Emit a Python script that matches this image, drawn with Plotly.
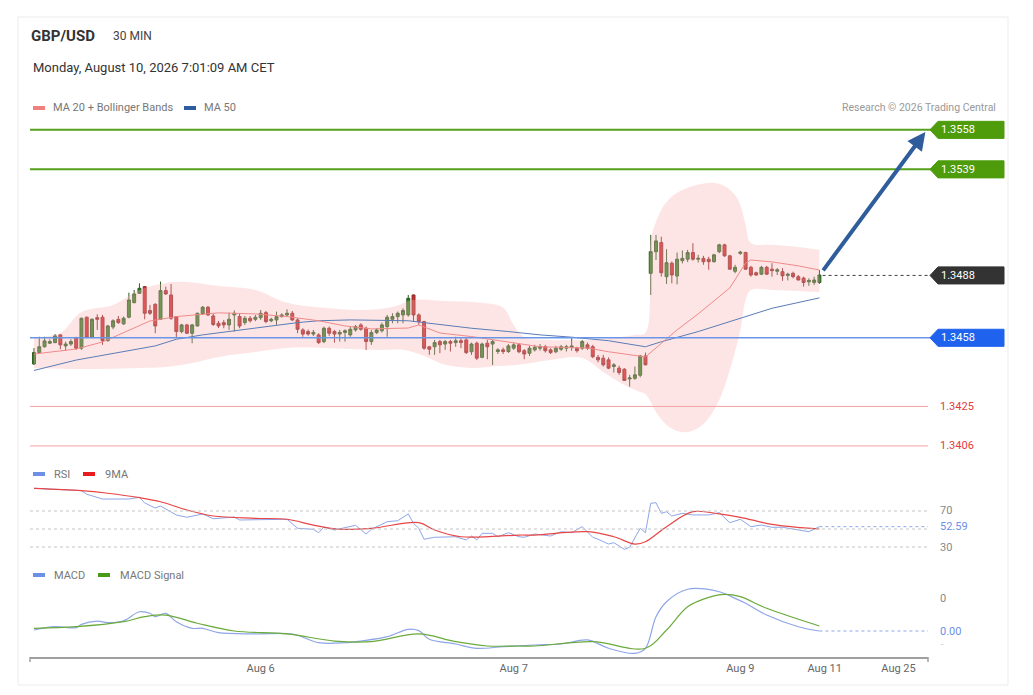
import plotly.graph_objects as go

# ============================
# Dados (GBP/USD, 30 min)
# ============================
opens = [1.34454, 1.34509, 1.34537, 1.34554, 1.34557, 1.34594, 1.34541, 1.34550, 1.34578, 1.34530,
         1.34679, 1.34583, 1.34677, 1.34679, 1.34566, 1.34632, 1.34669, 1.34647, 1.34679, 1.34749,
         1.34794, 1.34826, 1.34711, 1.34741, 1.34669, 1.34807, 1.34786, 1.34682, 1.34610, 1.34642,
         1.34602, 1.34637, 1.34695, 1.34727, 1.34685, 1.34650, 1.34653, 1.34642, 1.34690, 1.34682,
         1.34653, 1.34674, 1.34669, 1.34677, 1.34701, 1.34662, 1.34666, 1.34682, 1.34690, 1.34698,
         1.34666, 1.34618, 1.34610, 1.34598, 1.34594, 1.34562, 1.34626, 1.34610, 1.34598, 1.34606,
         1.34594, 1.34618, 1.34642, 1.34626, 1.34562, 1.34605, 1.34614, 1.34634, 1.34669, 1.34682,
         1.34690, 1.34690, 1.34786, 1.34690, 1.34658, 1.34537, 1.34537, 1.34562, 1.34550, 1.34562,
         1.34557, 1.34566, 1.34570, 1.34513, 1.34554, 1.34486, 1.34554, 1.34550, 1.34514, 1.34522,
         1.34514, 1.34530, 1.34546, 1.34518, 1.34506, 1.34522, 1.34530, 1.34537, 1.34522, 1.34513,
         1.34525, 1.34530, 1.34533, 1.34530, 1.34530, 1.34546, 1.34537, 1.34486, 1.34482, 1.34474,
         1.34442, 1.34434, 1.34429, 1.34382, 1.34385, 1.34400, 1.34493, 1.34890, 1.34994, 1.35038,
         1.34874, 1.34939, 1.34877, 1.34951, 1.34958, 1.34990, 1.34958, 1.34962, 1.34958, 1.34946,
         1.34994, 1.35027, 1.34974, 1.34900, 1.34986, 1.34990, 1.34919, 1.34893, 1.34886, 1.34919,
         1.34910, 1.34900, 1.34898, 1.34880, 1.34890, 1.34874, 1.34867, 1.34849, 1.34846, 1.34846]
highs = [1.34531, 1.34585, 1.34585, 1.34573, 1.34598, 1.34597, 1.34562, 1.34573, 1.34585, 1.34677,
         1.34682, 1.34674, 1.34693, 1.34690, 1.34642, 1.34669, 1.34685, 1.34682, 1.34797, 1.34810,
         1.34842, 1.34829, 1.34738, 1.34746, 1.34850, 1.34826, 1.34839, 1.34685, 1.34647, 1.34647,
         1.34647, 1.34701, 1.34733, 1.34733, 1.34695, 1.34661, 1.34666, 1.34701, 1.34712, 1.34695,
         1.34685, 1.34685, 1.34690, 1.34714, 1.34709, 1.34677, 1.34706, 1.34698, 1.34717, 1.34709,
         1.34674, 1.34626, 1.34620, 1.34618, 1.34602, 1.34634, 1.34634, 1.34618, 1.34618, 1.34621,
         1.34634, 1.34642, 1.34650, 1.34634, 1.34618, 1.34626, 1.34653, 1.34690, 1.34698, 1.34706,
         1.34722, 1.34786, 1.34788, 1.34698, 1.34662, 1.34541, 1.34570, 1.34570, 1.34570, 1.34570,
         1.34585, 1.34578, 1.34578, 1.34557, 1.34562, 1.34557, 1.34570, 1.34570, 1.34530, 1.34533,
         1.34550, 1.34554, 1.34554, 1.34526, 1.34541, 1.34546, 1.34550, 1.34546, 1.34530, 1.34541,
         1.34546, 1.34546, 1.34578, 1.34537, 1.34570, 1.34557, 1.34546, 1.34498, 1.34498, 1.34486,
         1.34458, 1.34446, 1.34434, 1.34402, 1.34442, 1.34498, 1.34509, 1.35075, 1.35075, 1.35066,
         1.35006, 1.34947, 1.34990, 1.35000, 1.35003, 1.35035, 1.34979, 1.34974, 1.34970, 1.34984,
         1.35032, 1.35032, 1.34979, 1.34931, 1.34998, 1.34994, 1.34926, 1.34898, 1.34926, 1.34926,
         1.34939, 1.34915, 1.34915, 1.34893, 1.34898, 1.34882, 1.34874, 1.34866, 1.34874, 1.34906]
lows = [1.34450, 1.34507, 1.34533, 1.34550, 1.34554, 1.34525, 1.34517, 1.34541, 1.34522, 1.34522,
        1.34578, 1.34578, 1.34618, 1.34546, 1.34562, 1.34621, 1.34647, 1.34642, 1.34674, 1.34746,
        1.34791, 1.34669, 1.34690, 1.34602, 1.34666, 1.34786, 1.34666, 1.34578, 1.34602, 1.34598,
        1.34554, 1.34634, 1.34690, 1.34685, 1.34637, 1.34627, 1.34626, 1.34618, 1.34610, 1.34626,
        1.34642, 1.34653, 1.34660, 1.34666, 1.34650, 1.34655, 1.34642, 1.34677, 1.34682, 1.34661,
        1.34602, 1.34585, 1.34590, 1.34589, 1.34550, 1.34554, 1.34589, 1.34557, 1.34562, 1.34562,
        1.34585, 1.34610, 1.34614, 1.34522, 1.34546, 1.34598, 1.34605, 1.34585, 1.34650, 1.34650,
        1.34650, 1.34682, 1.34658, 1.34642, 1.34522, 1.34498, 1.34498, 1.34506, 1.34522, 1.34514,
        1.34537, 1.34530, 1.34502, 1.34498, 1.34473, 1.34482, 1.34477, 1.34449, 1.34502, 1.34502,
        1.34507, 1.34522, 1.34506, 1.34477, 1.34493, 1.34514, 1.34518, 1.34509, 1.34502, 1.34506,
        1.34517, 1.34514, 1.34518, 1.34509, 1.34522, 1.34522, 1.34482, 1.34462, 1.34442, 1.34429,
        1.34413, 1.34402, 1.34374, 1.34345, 1.34378, 1.34390, 1.34448, 1.34786, 1.34954, 1.34874,
        1.34839, 1.34842, 1.34837, 1.34938, 1.34944, 1.34951, 1.34942, 1.34931, 1.34907, 1.34942,
        1.34987, 1.34970, 1.34907, 1.34890, 1.34979, 1.34907, 1.34874, 1.34878, 1.34882, 1.34882,
        1.34874, 1.34882, 1.34854, 1.34856, 1.34866, 1.34856, 1.34826, 1.34830, 1.34834, 1.34839]
closes = [1.34509, 1.34537, 1.34565, 1.34562, 1.34589, 1.34546, 1.34550, 1.34562, 1.34530, 1.34674,
          1.34583, 1.34669, 1.34669, 1.34566, 1.34637, 1.34662, 1.34653, 1.34674, 1.34762, 1.34791,
          1.34818, 1.34698, 1.34698, 1.34637, 1.34807, 1.34791, 1.34674, 1.34610, 1.34642, 1.34602,
          1.34642, 1.34698, 1.34727, 1.34690, 1.34644, 1.34637, 1.34642, 1.34669, 1.34698, 1.34637,
          1.34674, 1.34662, 1.34679, 1.34698, 1.34658, 1.34669, 1.34682, 1.34690, 1.34698, 1.34666,
          1.34621, 1.34598, 1.34598, 1.34606, 1.34557, 1.34626, 1.34602, 1.34598, 1.34606, 1.34614,
          1.34621, 1.34634, 1.34621, 1.34562, 1.34605, 1.34618, 1.34642, 1.34679, 1.34682, 1.34698,
          1.34711, 1.34770, 1.34690, 1.34658, 1.34530, 1.34525, 1.34557, 1.34546, 1.34562, 1.34554,
          1.34566, 1.34557, 1.34509, 1.34550, 1.34482, 1.34550, 1.34537, 1.34562, 1.34522, 1.34514,
          1.34541, 1.34546, 1.34513, 1.34502, 1.34530, 1.34535, 1.34537, 1.34518, 1.34509, 1.34530,
          1.34537, 1.34537, 1.34541, 1.34518, 1.34562, 1.34530, 1.34489, 1.34474, 1.34450, 1.34434,
          1.34450, 1.34413, 1.34375, 1.34387, 1.34402, 1.34493, 1.34450, 1.34994, 1.35046, 1.34893,
          1.34941, 1.34882, 1.34958, 1.34962, 1.34990, 1.34958, 1.34962, 1.34946, 1.34946, 1.34979,
          1.35027, 1.34974, 1.34910, 1.34919, 1.34992, 1.34910, 1.34882, 1.34882, 1.34919, 1.34886,
          1.34903, 1.34907, 1.34878, 1.34886, 1.34874, 1.34858, 1.34846, 1.34856, 1.34858, 1.34882]
candle_idx = list(range(len(closes)))

# Médias e bandas (índice do candle, valor)
ma20_idx = [0, 8, 13, 16, 22, 27, 35, 42, 48, 54, 59, 64, 71, 73, 77, 83, 90, 96, 105, 109, 116,
            122, 126, 132, 135, 136, 140, 145, 149]
ma20_val = [1.34502, 1.34526, 1.34560, 1.34594, 1.34661, 1.34682, 1.34700, 1.34695, 1.34682, 1.34662,
            1.34637, 1.34623, 1.34627, 1.34642, 1.34603, 1.34586, 1.34561, 1.34537, 1.34531, 1.34513,
            1.34488, 1.34618, 1.34695, 1.34820, 1.34940, 1.34954, 1.34945, 1.34926, 1.34906]
ma50_idx = [0, 8, 23, 27, 32, 42, 50, 54, 60, 71, 74, 83, 90, 96, 102, 109, 116, 119, 126, 140, 149]
ma50_val = [1.34423, 1.34473, 1.34541, 1.34573, 1.34594, 1.34626, 1.34653, 1.34662, 1.34666, 1.34662,
            1.34653, 1.34626, 1.34610, 1.34594, 1.34583, 1.34566, 1.34537, 1.34561, 1.34610, 1.34722,
            1.34772]
bb_up_idx = [0, 5, 9, 15, 20, 24, 28, 35, 42, 48, 55, 62, 68, 72, 78, 85, 89, 91, 93, 98, 105, 110,
             114, 116, 117, 118, 119, 120, 122, 125, 129, 131, 133, 134, 135, 136, 140, 145, 149]
bb_up_val = [1.34584, 1.34603, 1.34704, 1.34738, 1.34810, 1.34839, 1.34849, 1.34829, 1.34810, 1.34748,
             1.34724, 1.34714, 1.34728, 1.34762, 1.34757, 1.34748, 1.34724, 1.34642, 1.34584, 1.34570,
             1.34570, 1.34580, 1.34594, 1.34603, 1.35051, 1.35137, 1.35195, 1.35233, 1.35277, 1.35310,
             1.35325, 1.35310, 1.35267, 1.35219, 1.35123, 1.35036, 1.35027, 1.35017, 1.35003]
bb_lo_idx = [0, 10, 20, 25, 30, 35, 42, 48, 55, 60, 65, 70, 74, 78, 83, 88, 92, 98, 104, 108, 112,
             115, 116, 117, 118, 120, 122, 124, 126, 128, 130, 132, 134, 135, 136, 140, 145, 149]
bb_lo_val = [1.34435, 1.34430, 1.34435, 1.34440, 1.34459, 1.34488, 1.34512, 1.34531, 1.34531, 1.34526,
             1.34522, 1.34522, 1.34493, 1.34450, 1.34435, 1.34445, 1.34450, 1.34473, 1.34483, 1.34416,
             1.34353, 1.34319, 1.34310, 1.34271, 1.34223, 1.34161, 1.34132, 1.34127, 1.34146, 1.34194,
             1.34281, 1.34425, 1.34618, 1.34762, 1.34810, 1.34810, 1.34805, 1.34800]

# RSI e média de 9
rsi_idx = [0, 9, 10, 13, 18, 20, 21, 23, 24, 27, 29, 32, 34, 38, 39, 45, 48, 50, 53, 54,
           55, 57, 61, 63, 64, 67, 69, 71, 72, 73, 74, 76, 80, 82, 83, 84, 85, 87, 88, 90,
           92, 93, 95, 98, 100, 102, 104, 106, 107, 109, 110, 112, 113, 115, 116, 117, 118, 119, 120, 121,
           123, 125, 128, 130, 132, 134, 136, 138, 140, 142, 145, 147, 149]
rsi_val = [95.2, 92.6, 88.6, 83.3, 83.3, 85.2, 78.9, 73.3, 75.6, 65.6, 63.0, 66.7, 61.4, 63.3, 60.0,
           60.0, 60.8, 50.8, 49.7, 45.9, 52.2, 48.9, 54.1, 44.4, 49.7, 58.1, 59.2, 66.7, 56.3, 50.8,
           38.6, 40.8, 41.4, 37.8, 42.2, 37.8, 45.2, 45.2, 41.4, 45.9, 41.4, 40.8, 44.4, 42.2, 47.0,
           45.9, 52.6, 40.8, 38.6, 33.3, 34.8, 27.4, 29.7, 50.8, 45.9, 78.6, 79.2, 67.4, 69.2, 64.4,
           67.4, 65.6, 65.6, 68.1, 57.0, 60.8, 52.6, 54.4, 51.9, 51.9, 48.9, 47.0, 52.59]
rsima_idx = [0, 9, 14, 20, 24, 29, 34, 42, 48, 53, 58, 64, 73, 76, 81, 92, 95, 105, 110, 114,
             116, 120, 125, 130, 134, 140, 149]
rsima_val = [95.2, 92.6, 89.7, 84.8, 80.3, 71.1, 64.4, 61.9, 60.8, 54.4, 49.7, 50.8, 57.0, 48.9,
             41.4, 43.3, 43.3, 47.0, 41.4, 33.3, 35.9, 52.6, 69.2, 66.7, 63.0, 55.2, 50.0]

# MACD e sinal
macd_idx = [0, 4, 8, 9, 12, 14, 17, 20, 22, 23, 25, 27, 30, 32, 35, 42, 49, 54, 59, 62, 67, 71,
            73, 75, 80, 84, 89, 95, 100, 105, 109, 114, 116, 118, 120, 124, 130, 133, 135, 139, 145, 149]
macd_val = [0.000015, 0.000065, 0.000050, 0.000100, 0.000150, 0.000126, 0.000156, 0.000292, 0.000268,
            0.000217, 0.000268, 0.000141, 0.000041, 0.000041, -0.000025, -0.000045, -0.000045, -0.000177,
            -0.000177, -0.000152, -0.000086, 0.000026, 0.000005, -0.000126, -0.000197, -0.000262,
            -0.000238, -0.000212, -0.000197, -0.000136, -0.000262, -0.000338, -0.000262, 0.000217,
            0.000444, 0.000632, 0.000595, 0.000495, 0.000420, 0.000242, 0.000065, 0.0]
signal_idx = [0, 8, 17, 21, 25, 31, 38, 48, 57, 64, 73, 80, 86, 92, 95, 106, 116, 120, 124, 128,
              131, 134, 139, 149]
signal_val = [0.000041, 0.000065, 0.000141, 0.000217, 0.000242, 0.000117, 0.0, -0.000045, -0.000152,
              -0.000162, -0.000045, -0.000162, -0.000227, -0.000227, -0.000227, -0.000162, -0.000262,
              0.000015, 0.000368, 0.000510, 0.000556, 0.000520, 0.000344, 0.000076]

# Níveis e rótulos
resistances = [1.3558, 1.3539]
supports = [1.3425, 1.3406]
pivot = 1.3458
last_price = 1.3488
rsi_last = 52.59
target_price = 1.3557
target_idx = 169.1
tick_idx = [43, 91, 134, 150, 164]
tick_labels = ["Aug 6", "Aug 7", "Aug 9", "Aug 11", "Aug 25"]

# ============================
# Layout em pixels (a página tem 8 px de margem no body)
# ============================
OFF = 8
W, H = 1033 - OFF, 695 - OFF
ML, MR, MT, MB = 30 - OFF, 105, 118 - OFF, 38
PW = W - ML - MR
PH = H - MT - MB
FONT = "Roboto, Arial, sans-serif"


def fx(px):
    # px = coordenada na janela
    return (px - OFF - ML) / PW


def fy(py):
    return (H - MB - (py - OFF)) / PH


fig = go.Figure()

# Bandas de Bollinger
fig.add_trace(go.Scatter(x=bb_up_idx, y=bb_up_val, mode="lines", line=dict(width=0, shape="spline"),
                         hoverinfo="skip", showlegend=False))
fig.add_trace(go.Scatter(x=bb_lo_idx, y=bb_lo_val, mode="lines", line=dict(width=0, shape="spline"),
                         fill="tonexty", fillcolor="rgba(250,175,175,0.33)", hoverinfo="skip",
                         showlegend=False))
fig.add_trace(go.Scatter(x=ma50_idx, y=ma50_val, mode="lines", line=dict(color="#5a7cb6", width=1),
                         showlegend=False))
fig.add_trace(go.Scatter(x=ma20_idx, y=ma20_val, mode="lines", line=dict(color="#f08a8a", width=1),
                         showlegend=False))

fig.add_trace(go.Candlestick(
    x=candle_idx, open=opens, high=highs, low=lows, close=closes,
    increasing=dict(fillcolor="#2f8a25", line=dict(color="#2d5e26", width=1)),
    decreasing=dict(fillcolor="#d62a2a", line=dict(color="#8e2b2b", width=1)),
    whiskerwidth=0, showlegend=False, hoverinfo="skip"))

# RSI
fig.add_trace(go.Scatter(x=rsi_idx, y=rsi_val, yaxis="y2", mode="lines",
                         line=dict(color="#8ea6e8", width=1), showlegend=False))
fig.add_trace(go.Scatter(x=rsima_idx, y=rsima_val, yaxis="y2", mode="lines",
                         line=dict(color="#e84646", width=1.2, shape="spline"), showlegend=False))

# MACD
fig.add_trace(go.Scatter(x=macd_idx, y=macd_val, yaxis="y3", mode="lines",
                         line=dict(color="#8ea6e8", width=1.2, shape="spline"), showlegend=False))
fig.add_trace(go.Scatter(x=signal_idx, y=signal_val, yaxis="y3", mode="lines",
                         line=dict(color="#6aaa3a", width=1.2, shape="spline"), showlegend=False))

shapes = []
annotations = []

# Cartão
shapes.append(dict(type="rect", xref="paper", yref="paper", x0=fx(18), x1=fx(1008), y0=fy(685), y1=fy(17),
                   line=dict(color="#ececec", width=1), layer="below"))

# Linhas horizontais de preço
for lvl in resistances:
    shapes.append(dict(type="line", xref="paper", yref="y", x0=0, x1=fx(936), y0=lvl, y1=lvl,
                       line=dict(color="#55a11c", width=2)))
shapes.append(dict(type="line", xref="paper", yref="y", x0=0, x1=fx(936), y0=pivot, y1=pivot,
                   line=dict(color="#6b95e6", width=1.5)))
for lvl in supports:
    shapes.append(dict(type="line", xref="paper", yref="y", x0=0, x1=1, y0=lvl, y1=lvl,
                       line=dict(color="#f4a3a3", width=1)))
shapes.append(dict(type="line", xref="x", yref="y", x0=candle_idx[-1] + 0.6, x1=169.6,
                   y0=last_price, y1=last_price, line=dict(color="#444", width=1, dash="dot")))


def tag(price, color):
    h = 0.00041
    x0, x1, x2 = fx(930), fx(938), fx(1004)
    path = (f"M{x0},{price} L{x1},{price + h} L{x2},{price + h} "
            f"L{x2},{price - h} L{x1},{price - h} Z")
    shapes.append(dict(type="path", xref="paper", yref="y", path=path, fillcolor=color,
                       line=dict(color=color, width=1)))
    annotations.append(dict(xref="paper", yref="y", x=fx(939), y=price, xanchor="left",
                            yanchor="middle", showarrow=False, text=f"{price:.4f}",
                            font=dict(family=FONT, size=11, color="white")))


for lvl in resistances:
    tag(lvl, "#4e9c0c")
tag(last_price, "#333333")
tag(pivot, "#1f62ee")
for lvl in supports:
    annotations.append(dict(xref="paper", yref="y", x=fx(938), y=lvl, xanchor="left", yanchor="middle",
                            showarrow=False, text=f"{lvl:.4f}",
                            font=dict(family=FONT, size=11, color="#e23c3c")))

# Seta de projeção
annotations.append(dict(x=target_idx, y=target_price, xref="x", yref="y",
                        ax=candle_idx[-1] + 0.5, ay=1.34897, axref="x", ayref="y",
                        showarrow=True, arrowhead=2, arrowsize=0.9, arrowwidth=4,
                        arrowcolor="#2f5d9c", text=""))

# Linhas pontilhadas do RSI e MACD
for lvl in [70, 50, 30]:
    shapes.append(dict(type="line", xref="paper", yref="y2", x0=0, x1=1, y0=lvl, y1=lvl,
                       line=dict(color="#c4c4c4", width=1, dash="dot")))
shapes.append(dict(type="line", xref="x", yref="y2", x0=candle_idx[-1], x1=169.6, y0=rsi_last, y1=rsi_last,
                   line=dict(color="#8ea6e8", width=1, dash="dot")))
shapes.append(dict(type="line", xref="x", yref="y3", x0=candle_idx[-1], x1=169.6, y0=macd_val[-1],
                   y1=macd_val[-1], line=dict(color="#8ea6e8", width=1, dash="dot")))

for txt, val, col in [("70", 70, "#888"), (f"{rsi_last:.2f}", rsi_last, "#6d8fe6"), ("30", 30, "#888")]:
    annotations.append(dict(xref="paper", yref="y2", x=fx(938), y=val, xanchor="left", yanchor="middle",
                            showarrow=False, text=txt, font=dict(family=FONT, size=11, color=col)))
annotations.append(dict(xref="paper", yref="y3", x=fx(938), y=0.0005, xanchor="left", yanchor="middle",
                        showarrow=False, text="0", font=dict(family=FONT, size=11, color="#888")))
annotations.append(dict(xref="paper", yref="y3", x=fx(938), y=0.0, xanchor="left", yanchor="middle",
                        showarrow=False, text="0.00", font=dict(family=FONT, size=11, color="#6d8fe6")))
# pequeno traço abaixo de 0.00 (um pouco deslocado para não sobrepor)
annotations.append(dict(xref="paper", yref="y3", x=fx(939), y=-0.00021, xanchor="left", yanchor="middle",
                        showarrow=False, text="-", font=dict(family=FONT, size=8, color="#aaa")))

# Extremos do eixo x
for px in [30, 928]:
    shapes.append(dict(type="line", xref="paper", yref="paper", x0=fx(px), x1=fx(px), y0=fy(657), y1=fy(662),
                       line=dict(color="#a0a0a0", width=1.5)))


# Títulos e legendas
def text(px, py, s, size=11, color="#777", bold=False, anchor="left"):
    if bold:
        s = f"<b>{s}</b>"
    annotations.append(dict(xref="paper", yref="paper", x=fx(px), y=fy(py), xanchor=anchor, yanchor="middle",
                            showarrow=False, text=s, font=dict(family=FONT, size=size, color=color)))


def swatch(px, py, color):
    shapes.append(dict(type="line", xref="paper", yref="paper", x0=fx(px), x1=fx(px + 12), y0=fy(py), y1=fy(py),
                       line=dict(color=color, width=4)))


text(29, 36, "GBP/USD", size=15, color="#333", bold=True)
text(111, 36, "30 MIN", size=12, color="#444")
text(31, 68, "Monday, August 10, 2026 7:01:09 AM CET", size=13, color="#333")

swatch(33, 108, "#f07f7f")
text(51, 108, "MA 20 + Bollinger Bands")
swatch(184, 108, "#2d5d9f")
text(202, 108, "MA 50")
text(998, 108, "Research © 2026 Trading Central", size=10.5, color="#999", anchor="right")

swatch(33, 474, "#6d8fe6")
text(52, 474, "RSI")
swatch(83, 474, "#e81c1c")
text(103, 474, "9MA")

swatch(33, 575, "#6d8fe6")
text(52, 575, "MACD")
swatch(98, 575, "#4a9a1a")
text(118, 575, "MACD Signal")

fig.update_layout(
    width=W, height=H,
    margin=dict(l=ML, r=MR, t=MT, b=MB),
    paper_bgcolor="white", plot_bgcolor="white",
    font=dict(family=FONT),
    hovermode=False,
    showlegend=False,
    boxgap=0.2,
    xaxis=dict(range=[-0.76, 169.6], anchor="y3", showgrid=False, zeroline=False,
               showline=True, linecolor="#a0a0a0", linewidth=1.5,
               tickvals=tick_idx, ticktext=tick_labels, ticks="",
               tickfont=dict(size=11, color="#666"), rangeslider=dict(visible=False)),
    yaxis=dict(domain=[fy(458), fy(118)], range=[1.34002, 1.35637], visible=False),
    yaxis2=dict(domain=[fy(557), fy(482)], range=[18.9, 102.2], visible=False),
    yaxis3=dict(domain=[0, fy(585)], range=[-0.000394, 0.000697], visible=False),
    shapes=shapes,
    annotations=annotations,
)

fig.write_html("out.html")
